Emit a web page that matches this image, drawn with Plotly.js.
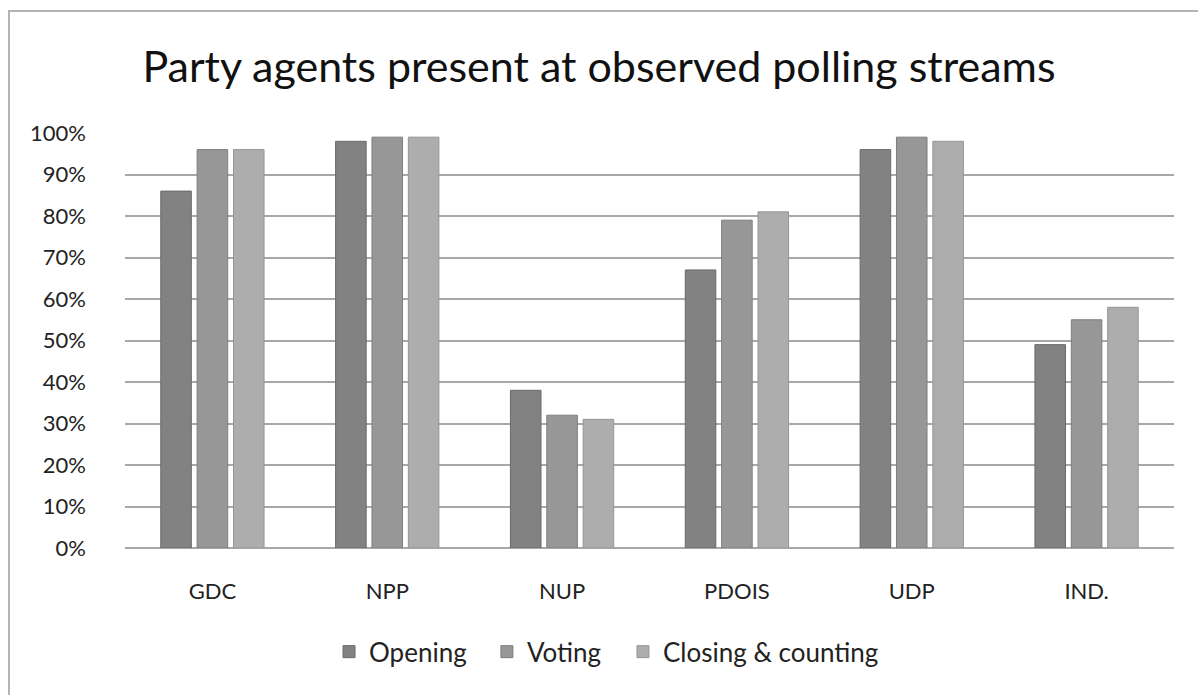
<!DOCTYPE html>
<html>
<head>
<meta charset="utf-8">
<script src="https://cdn.plot.ly/plotly-3.0.1.min.js"></script>
<style>
  html, body { margin: 0; padding: 0; background: #ffffff; }
  #wrap { position: relative; width: 1198px; height: 695px; overflow: hidden; }
  #chart { position: absolute; left: 0; top: 0; width: 1198px; height: 695px; }
  #frame { position: absolute; left: 8px; top: 10px; width: 1300px; height: 800px;
           border-top: 2px solid #b4b4b4; border-left: 2px solid #b4b4b4; pointer-events: none; }
</style>
</head>
<body>
<div id="wrap">
  <div id="chart"></div>
  <div id="frame"></div>
</div>
<script>
const categories = ["GDC", "NPP", "NUP", "PDOIS", "UDP", "IND."];
const seriesNames = ["Opening", "Voting", "Closing & counting"];
const opening = [86, 98, 38, 67, 96, 49];
const voting  = [96, 99, 32, 79, 99, 55];
const closing = [96, 99, 31, 81, 98, 58];
const yTickValues = [0, 10, 20, 30, 40, 50, 60, 70, 80, 90, 100];
const yTickLabels = ["0%", "10%", "20%", "30%", "40%", "50%", "60%", "70%", "80%", "90%", "100%"];

const fills = ["#828282", "#979797", "#adadad"];
const edges = ["#6a6a6a", "#7e7e7e", "#959595"];
const values = [opening, voting, closing];
const legendIds = ["legend", "legend2", "legend3"];
const legendX = [0.1945, 0.345, 0.4747];

const FONT = "Lato, 'Noto Sans', sans-serif";

const traces = values.map((v, i) => ({
  type: "bar",
  name: seriesNames[i],
  x: categories,
  y: v,
  legend: legendIds[i],
  marker: { color: fills[i], line: { color: edges[i], width: 1 } },
  hoverinfo: "x+y+name"
}));

const legendStyle = (x) => ({
  orientation: "h",
  x: x, xanchor: "left",
  y: -0.25, yanchor: "middle",
  font: { family: FONT, size: 26, color: "#222222" },
  itemwidth: 30,
  bgcolor: "rgba(0,0,0,0)",
  borderwidth: 0
});

const layout = {
  width: 1198,
  height: 695,
  paper_bgcolor: "#ffffff",
  plot_bgcolor: "#ffffff",
  margin: { l: 125, r: 24, t: 133, b: 147, pad: 0 },
  font: { family: FONT, color: "#222222", size: 22 },
  title: {
    text: "Party agents present at observed polling streams",
    font: { family: FONT, size: 43, color: "#111111" },
    x: 0.5, xref: "container", xanchor: "center",
    y: 0.904, yref: "container", yanchor: "middle"
  },
  barmode: "group",
  bargap: 0.376,
  bargroupgap: 0.16,
  xaxis: {
    type: "category",
    showgrid: false,
    showline: false,
    zeroline: false,
    ticks: "",
    ticklabelstandoff: 28,
    tickfont: { family: FONT, size: 22, color: "#222222" }
  },
  yaxis: {
    range: [0, 100],
    tickmode: "array",
    tickvals: yTickValues,
    ticktext: yTickLabels,
    showgrid: true,
    gridcolor: "#a8a8a8",
    gridwidth: 2,
    zeroline: true,
    zerolinecolor: "#a8a8a8",
    zerolinewidth: 2,
    showline: false,
    ticks: "",
    ticklabelstandoff: 38,
    tickfont: { family: FONT, size: 22, color: "#222222" },
    fixedrange: true
  },
  showlegend: true,
  legend: legendStyle(legendX[0]),
  legend2: legendStyle(legendX[1]),
  legend3: legendStyle(legendX[2])
};

Plotly.newPlot("chart", traces, layout, { displayModeBar: false, staticPlot: true });
</script>
</body>
</html>
